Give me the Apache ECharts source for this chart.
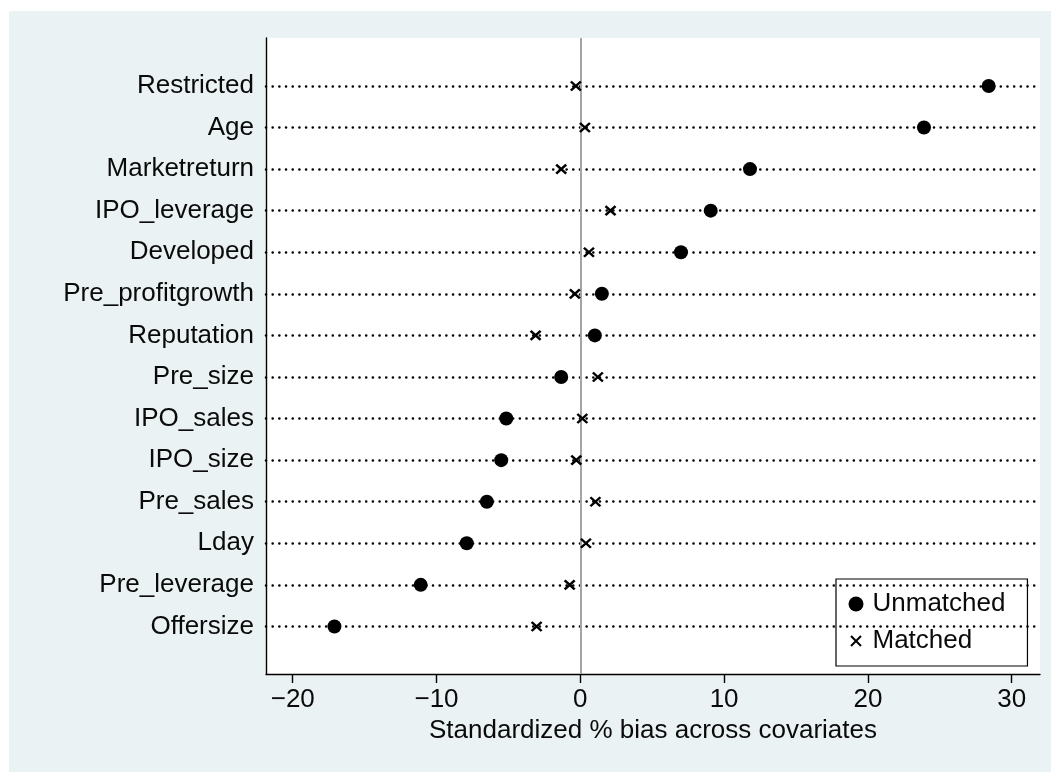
<!DOCTYPE html>
<html>
<head>
<meta charset="utf-8">
<script src="https://cdn.jsdelivr.net/npm/echarts@6/dist/echarts.min.js"></script>
<style>html,body{margin:0;padding:0;background:#fff;}#c{width:1051px;height:772px;}</style>
</head>
<body>
<div id="c"></div>
<script>
// Covariates, top to bottom
const categories = ["Restricted","Age","Marketreturn","IPO_leverage","Developed","Pre_profitgrowth","Reputation","Pre_size","IPO_sales","IPO_size","Pre_sales","Lday","Pre_leverage","Offersize"];
const unmatched = [28.4, 23.9, 11.8, 9.07, 7.0, 1.5, 1.01, -1.33, -5.15, -5.5, -6.5, -7.9, -11.1, -17.1];
const matched = [-0.31, 0.32, -1.33, 2.1, 0.6, -0.38, -3.11, 1.22, 0.14, -0.28, 1.05, 0.39, -0.74, -3.04];
const xTicks = [-20, -10, 0, 10, 20, 30];

const n = categories.length;
const pos = categories.map((c, i) => n - i);
const font = "'Liberation Sans', Arial, Helvetica, sans-serif";
const crossPath = 'path://M0,0L10,10M10,0L0,10';
const legendCross = 'path://M-2.5,-2.5L-2.5,-2.5M0,0L10,10M10,0L0,10M12.5,12.5L12.5,12.5';

const chart = echarts.init(document.getElementById('c'), null, {renderer: 'canvas'});
chart.setOption({
  animation: false,
  backgroundColor: '#ffffff',
  textStyle: {fontFamily: font},
  graphic: [{
    type: 'rect', z: -10, silent: true,
    shape: {x: 9, y: 11, width: 1042, height: 761},
    style: {fill: '#eaf2f3'}
  }],
  grid: {left: 266, right: 11, top: 38, bottom: 98, show: true, backgroundColor: '#ffffff', borderWidth: 0},
  xAxis: {
    type: 'value', min: -21.86, max: 31.97,
    name: 'Standardized % bias across covariates',
    nameLocation: 'middle', nameGap: 40,
    nameTextStyle: {fontSize: 26, color: '#0a0a0a', fontFamily: font},
    axisLine: {show: true, onZero: false, lineStyle: {color: '#000', width: 1.4}},
    axisTick: {show: true, length: 9, customValues: xTicks, lineStyle: {color: '#000', width: 1.4}},
    axisLabel: {customValues: xTicks, fontSize: 26, color: '#0a0a0a', margin: 13, fontFamily: font,
      formatter: v => (v < 0 ? '\u2212' + Math.abs(v) : String(v))},
    splitLine: {show: false}
  },
  yAxis: {
    type: 'value', min: -0.144, max: 15.153,
    axisLine: {show: true, onZero: false, lineStyle: {color: '#000', width: 1.4}},
    axisTick: {show: false},
    axisLabel: {customValues: pos, fontSize: 26, color: '#0a0a0a', margin: 12, fontFamily: font,
      formatter: v => categories[n - Math.round(v)] || ''},
    splitLine: {show: false}
  },
  legend: {
    orient: 'vertical', left: 836, top: 579,
    backgroundColor: '#ffffff', borderColor: '#000', borderWidth: 1.2,
    padding: [12, 22, 12, 10], itemGap: 11, itemWidth: 15, itemHeight: 15,
    textStyle: {fontSize: 26, color: '#0a0a0a', fontFamily: font, padding: [0, 0, 0, 4]},
    data: [
      {name: 'Unmatched', icon: 'circle'},
      {name: 'Matched', icon: legendCross, itemStyle: {color: 'none', borderColor: '#000', borderWidth: 2}}
    ]
  },
  series: [
    {
      name: 'guides', type: 'scatter', data: [], silent: true, z: 1,
      markLine: {
        silent: true, symbol: 'none', label: {show: false},
        lineStyle: {color: '#000', width: 2.6, type: [0.01, 6.67], cap: 'round'},
        data: pos.map(p => ({yAxis: p}))
      }
    },
    {
      name: 'zero', type: 'scatter', data: [], silent: true, z: 2,
      markLine: {
        silent: true, symbol: 'none', label: {show: false},
        lineStyle: {color: '#a4a4a4', width: 2, type: 'solid'},
        data: [{xAxis: 0}]
      }
    },
    {
      name: 'Unmatched', type: 'scatter', z: 5,
      symbol: 'circle', symbolSize: 14,
      itemStyle: {color: '#000', opacity: 1},
      data: unmatched.map((v, i) => [v, pos[i]])
    },
    {
      name: 'Matched', type: 'scatter', z: 5,
      symbol: crossPath, symbolSize: [10, 9],
      itemStyle: {color: 'none', borderColor: '#000', borderWidth: 2.4, opacity: 1},
      data: matched.map((v, i) => [v, pos[i]])
    }
  ]
});
</script>
</body>
</html>
